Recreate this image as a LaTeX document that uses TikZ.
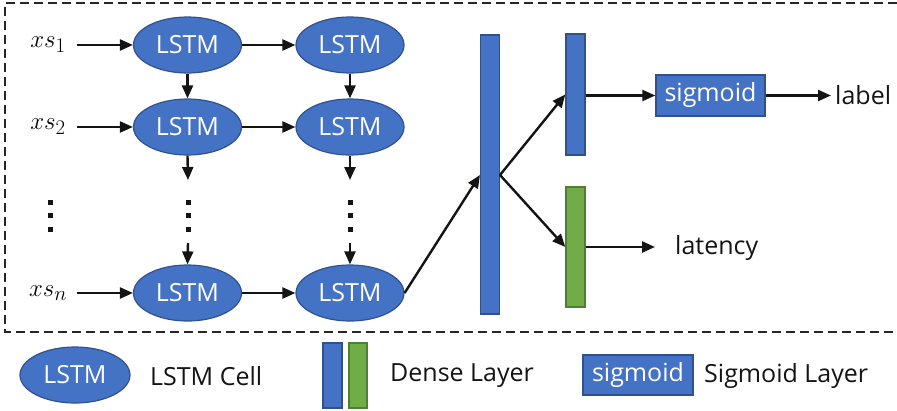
\documentclass[tikz,border=0pt]{standalone}
\usepackage{fontspec}
\setmainfont{Open Sans}
\usetikzlibrary{arrows.meta,shapes.geometric}
\definecolor{cblue}{HTML}{4472C4}
\definecolor{cblueb}{HTML}{2F528F}
\definecolor{cgreen}{HTML}{70AD47}
\definecolor{cgreenb}{HTML}{507E32}
\tikzset{
  lstm/.style={ellipse, fill=cblue, draw=cblueb, line width=1.2pt, minimum width=108pt, minimum height=56pt, inner sep=0pt, text=white, font=\fontsize{25}{25}\selectfont},
  bluebar/.style={rectangle, fill=cblue, draw=cblueb, line width=1.4pt, inner sep=0pt},
  greenbar/.style={rectangle, fill=cgreen, draw=cgreenb, line width=1.4pt, inner sep=0pt},
  sigbox/.style={rectangle, fill=cblue, draw=cblueb, line width=1.4pt, inner sep=0pt, text=white, font=\fontsize{25}{25}\selectfont},
  arr/.style={-{Triangle[length=13pt,width=11pt]}, line width=2.4pt, black!92},
  txt/.style={inner sep=0pt, font=\fontsize{25}{25}\selectfont, text=black!92},
  mathtxt/.style={inner sep=0pt, font=\fontsize{29}{29}\selectfont},
  dotcol/.style={fill=black!92, minimum size=5pt, inner sep=0pt, rectangle},
}
\begin{document}
\begin{tikzpicture}[x=1pt,y=-1pt]
\useasboundingbox (0,0) rectangle (897,410);
% dashed frame
\draw[line width=2pt, dash pattern=on 9pt off 5pt, black!85] (897,3) -- (5,3) -- (5,332) -- (897,332);
% LSTM cells
\node[lstm] (a1) at (187.5,45) {LSTM};
\node[lstm] (b1) at (350,45) {LSTM};
\node[lstm] (a2) at (187.5,127) {LSTM};
\node[lstm] (b2) at (350,127) {LSTM};
\node[lstm] (an) at (187.5,293) {LSTM};
\node[lstm] (bn) at (350,293) {LSTM};
% inputs
\node[mathtxt] (x1) at (48,45) {$xs_1$};
\node[mathtxt] (x2) at (48,127) {$xs_2$};
\node[mathtxt] (xn) at (48,293) {$xs_n$};
\coordinate (x1e) at (77,45);
\coordinate (x2e) at (77,127);
\coordinate (xne) at (77,293);
\draw[arr] (x1e) -- (a1);
\draw[arr] (x2e) -- (a2);
\draw[arr] (xne) -- (an);
\draw[arr] (a1) -- (b1);
\draw[arr] (a2) -- (b2);
\draw[arr] (an) -- (bn);
\draw[arr] (a1) -- (a2);
\draw[arr] (b1) -- (b2);
% dots
\foreach \c/\xx in {l/50, a/188, b/350}{
  \node[dotcol] (\c d1) at (\xx,202) {};
  \node[dotcol] (\c d2) at (\xx,215.5) {};
  \node[dotcol] (\c d3) at (\xx,229) {};
}
\coordinate (a2s) at (188,180);
\coordinate (b2s) at (350,180);
\coordinate (a3s) at (188,243);
\coordinate (b3s) at (350,243);
\draw[arr] (a2.south) -- (a2s);
\draw[arr] (b2.south) -- (b2s);
\draw[arr] (a3s) -- (an.north);
\draw[arr] (b3s) -- (bn.north);
% dense layers
\node[bluebar, minimum width=19pt, minimum height=279pt] (d0) at (490,174.5) {};
\node[bluebar, minimum width=19pt, minimum height=121pt] (d1) at (575.5,94.5) {};
\node[greenbar, minimum width=19pt, minimum height=120pt] (d2) at (575.5,247) {};
\node[sigbox, minimum width=109pt, minimum height=41pt] (sg) at (710.5,95.5) {sigmoid};
\node[txt, anchor=west] (lb) at (835,95) {label};
\node[txt, anchor=west] (lt) at (675,248) {latency};
\coordinate (d0in) at (480,175);
\coordinate (d0out) at (500,175);
\draw[arr] (bn.east) -- (d0in);
\draw[arr] (d0out) -- (d1.west);
\draw[arr] (d0out) -- (d2.west);
\draw[arr] (d1.east |- sg.west) -- (sg.west);
\coordinate (lbe) at (831,95.5);
\draw[arr] (sg.east) -- (lbe);
\coordinate (lte) at (655,247);
\draw[arr] (d2.east) -- (lte);
% legend
\node[lstm, minimum width=110pt, minimum height=56pt] (ll) at (75,375) {LSTM};
\node[txt, anchor=west] (llt) at (150,376) {LSTM Cell};
\node[bluebar, minimum width=19pt, minimum height=65pt] (lb1) at (332.5,375.5) {};
\node[greenbar, minimum width=18pt, minimum height=65pt] (lb2) at (358,375.5) {};
\node[txt, anchor=west] (ldt) at (390,376) {Dense Layer};
\node[sigbox, minimum width=110pt, minimum height=40pt] (ls) at (638,375) {sigmoid};
\node[txt, anchor=west] (lst) at (704,376) {Sigmoid Layer};
\end{tikzpicture}
\end{document}
